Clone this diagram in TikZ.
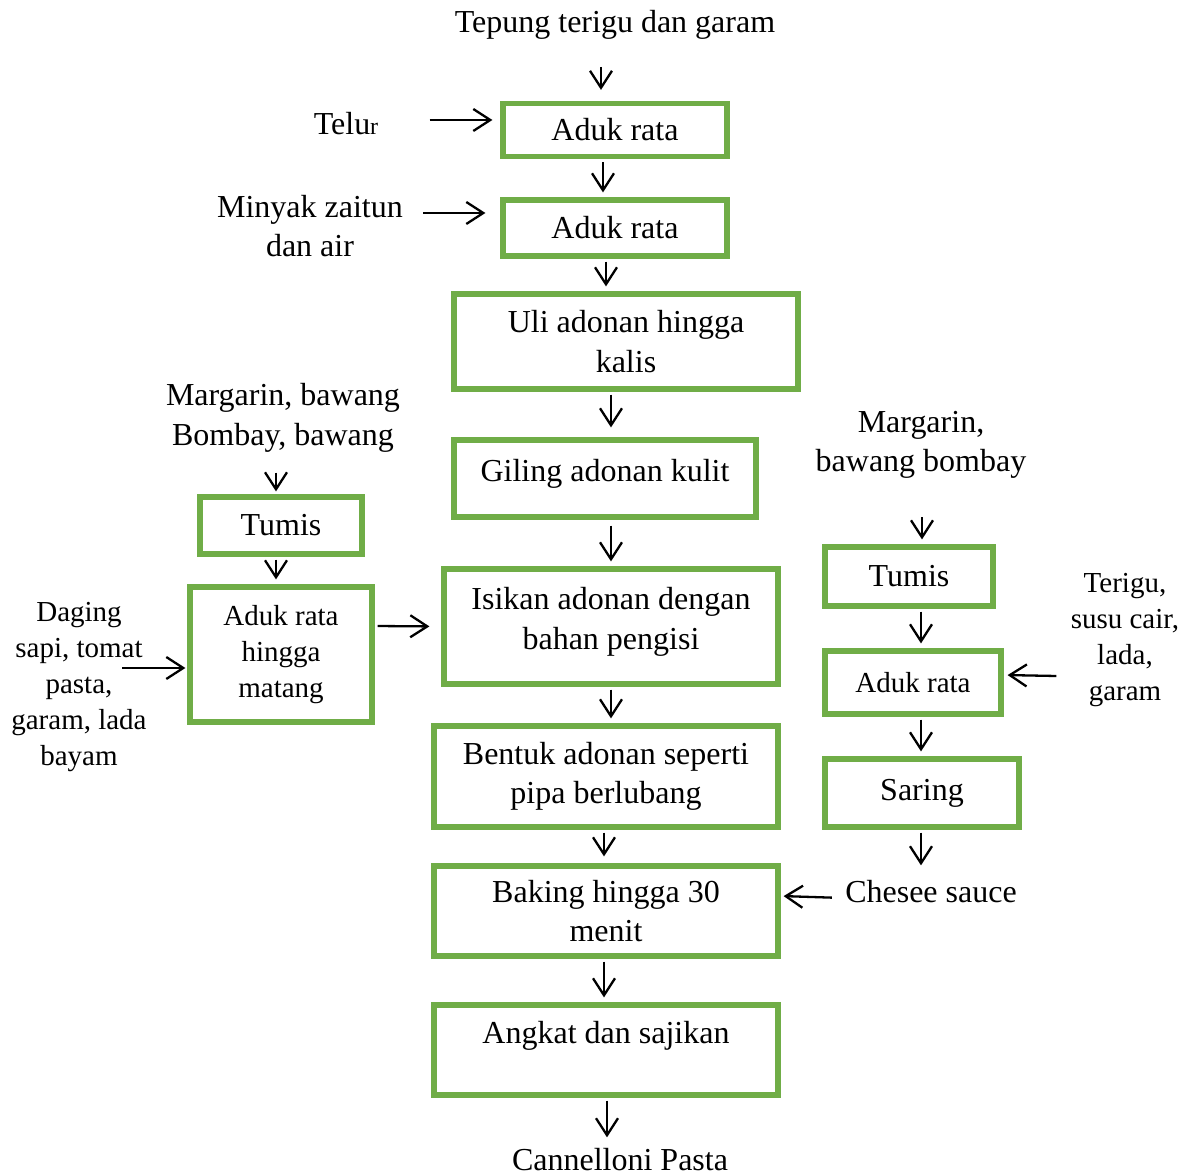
\documentclass[tikz,border=0pt]{standalone}
\usepackage{fontspec}
\setmainfont{Liberation Serif}
\usetikzlibrary{arrows.meta}
\definecolor{hijau}{RGB}{112,173,71}

\begin{document}
\begin{tikzpicture}[x=0.5pt, y=-0.5pt,
    font=\fontsize{16}{19.75}\selectfont,
    proses/.style={draw=hijau, line width=2.6pt, align=center, inner sep=2pt},
    bahan/.style={align=center, inner sep=1pt},
    kecil/.style={font=\fontsize{14.5}{18}\selectfont},
    panah/.style={-{Straight Barb[length=8.5pt,width=11pt]}, line width=1.15pt,
      shorten >=2.5pt, shorten <=1.5pt}]
  \useasboundingbox (0,0) rectangle (1190,1176);

  % jalur utama
  \node[proses, minimum width=112pt, minimum height=26.5pt] (aduk1) at (615,130) {Aduk rata};
  \node[proses, minimum width=112pt, minimum height=28pt] (aduk2) at (615,228) {Aduk rata};
  \node[proses, minimum width=172pt, minimum height=47.5pt] (uli) at (626,341.5) {Uli adonan hingga\\kalis};
  \node[proses, minimum width=151pt, minimum height=38.5pt, text depth=8pt] (giling) at (605,478.5) {Giling adonan kulit};
  \node[proses, minimum width=167pt, minimum height=57.5pt, text depth=8pt] (isikan) at (611,626.5) {Isikan adonan dengan\\bahan pengisi};
  \node[proses, minimum width=172pt, minimum height=50.5pt] (bentuk) at (606,776.5) {Bentuk adonan seperti\\pipa berlubang};
  \node[proses, minimum width=172pt, minimum height=45pt] (baking) at (606,911) {Baking hingga 30\\menit};
  \node[proses, minimum width=172pt, minimum height=45pt, text depth=17.5pt] (angkat) at (606,1050) {Angkat dan sajikan};

  % isi
  \node[proses, minimum width=81pt, minimum height=28.5pt] (tumisL) at (281,525.5) {Tumis};
  \node[proses, kecil, minimum width=91pt, minimum height=67.5pt] (adukL) at (281,654.5) {Aduk rata\\hingga\\matang};

  % saus
  \node[proses, minimum width=84pt, minimum height=29.5pt] (tumisR) at (909,576.5) {Tumis};
  \node[proses, kecil, minimum width=88pt, minimum height=31.5pt] (adukR) at (913,682.5) {Aduk rata};
  \node[proses, minimum width=97pt, minimum height=34pt] (saring) at (922,793) {Saring};

  % bahan
  \node[bahan] (tepung) at (615,25) {Tepung terigu dan garam};
  \node[bahan] (telur) at (346,124) {Telu{\fontsize{12}{14}\selectfont r}};
  \node[bahan] (minyak) at (310,226) {Minyak zaitun\\dan air};
  \node[bahan] (margL) at (283,418) {Margarin, bawang\\Bombay, bawang};
  \node[bahan] (margR) at (921,445) {Margarin,\\bawang bombay};
  \node[bahan, kecil] (daging) at (79,687) {Daging\\sapi, tomat\\pasta,\\garam, lada\\bayam};
  \node[bahan, kecil] (terigu) at (1125,640) {Terigu,\\susu cair,\\lada,\\garam};
  \node[bahan] (chesee) at (931,892) {Chesee sauce};
  \node[bahan] (pasta) at (620,1160) {Cannelloni Pasta};

  \draw[panah, shorten <=12.5pt, shorten >=5.5pt] ([xshift=-7pt]tepung.south) -- ([xshift=-7pt]aduk1.north);
  \draw[panah, shorten <=24.5pt, shorten >=4pt] ([yshift=2pt]telur.east) -- ([yshift=5pt]aduk1.west);
  \draw[panah] ([xshift=-6pt]aduk1.south) -- ([xshift=-6pt]aduk2.north);
  \draw[panah, shorten <=9pt, shorten >=7.5pt] ([yshift=6.5pt]minyak.east) -- ([yshift=7.5pt]aduk2.west);
  \draw[panah] ([xshift=-4.5pt]aduk2.south) -- ([xshift=-10pt]uli.north);
  \draw[panah, shorten >=5pt] ([xshift=-7.5pt]uli.south) -- ([xshift=3pt]giling.north);
  \draw[panah, shorten <=3pt] ([xshift=3pt]giling.south) -- (isikan.north);
  \draw[panah] (isikan.south) -- ([xshift=2.5pt]bentuk.north);
  \draw[panah, shorten >=3.5pt] ([xshift=-1pt]bentuk.south) -- ([xshift=-1pt]baking.north);
  \draw[panah] ([xshift=-1pt]baking.south) -- ([xshift=-1pt]angkat.north);
  \draw[panah, shorten >=4.5pt] ([xshift=0.5pt]angkat.south) -- ([xshift=-6.5pt]pasta.north);

  \draw[panah, shorten <=9pt, shorten >=1.5pt] ([xshift=-3.5pt]margL.south) -- ([xshift=-2.5pt]tumisL.north);
  \draw[panah] ([xshift=-2.5pt]tumisL.south) -- ([xshift=-2.5pt]adukL.north);
  \draw[panah, shorten <=0pt, shorten >=1pt] ([xshift=-13.5pt, yshift=9.5pt]daging.east) -- ([yshift=-6.75pt]adukL.west);
  \draw[panah, shorten >=6pt] ([yshift=14.25pt]adukL.east) -- (isikan.west);

  \draw[panah, shorten <=18pt] ([xshift=0.5pt]margR.south) -- ([xshift=6.5pt]tumisR.north);
  \draw[panah] ([xshift=6pt]tumisR.south) -- ([xshift=4pt]adukR.north);
  \draw[panah, shorten <=0pt, shorten >=2pt] ([xshift=-6pt, yshift=-18pt]terigu.west) -- ([yshift=3.75pt]adukR.east);
  \draw[panah] ([xshift=4pt]adukR.south) -- ([xshift=-0.5pt]saring.north);
  \draw[panah, shorten >=6.5pt] ([xshift=-0.5pt]saring.south) -- ([xshift=-5pt]chesee.north);
  \draw[panah, shorten <=5.5pt, shorten >=1.5pt] ([yshift=-3pt]chesee.west) -- ([yshift=7.5pt]baking.east);
\end{tikzpicture}
\end{document}
